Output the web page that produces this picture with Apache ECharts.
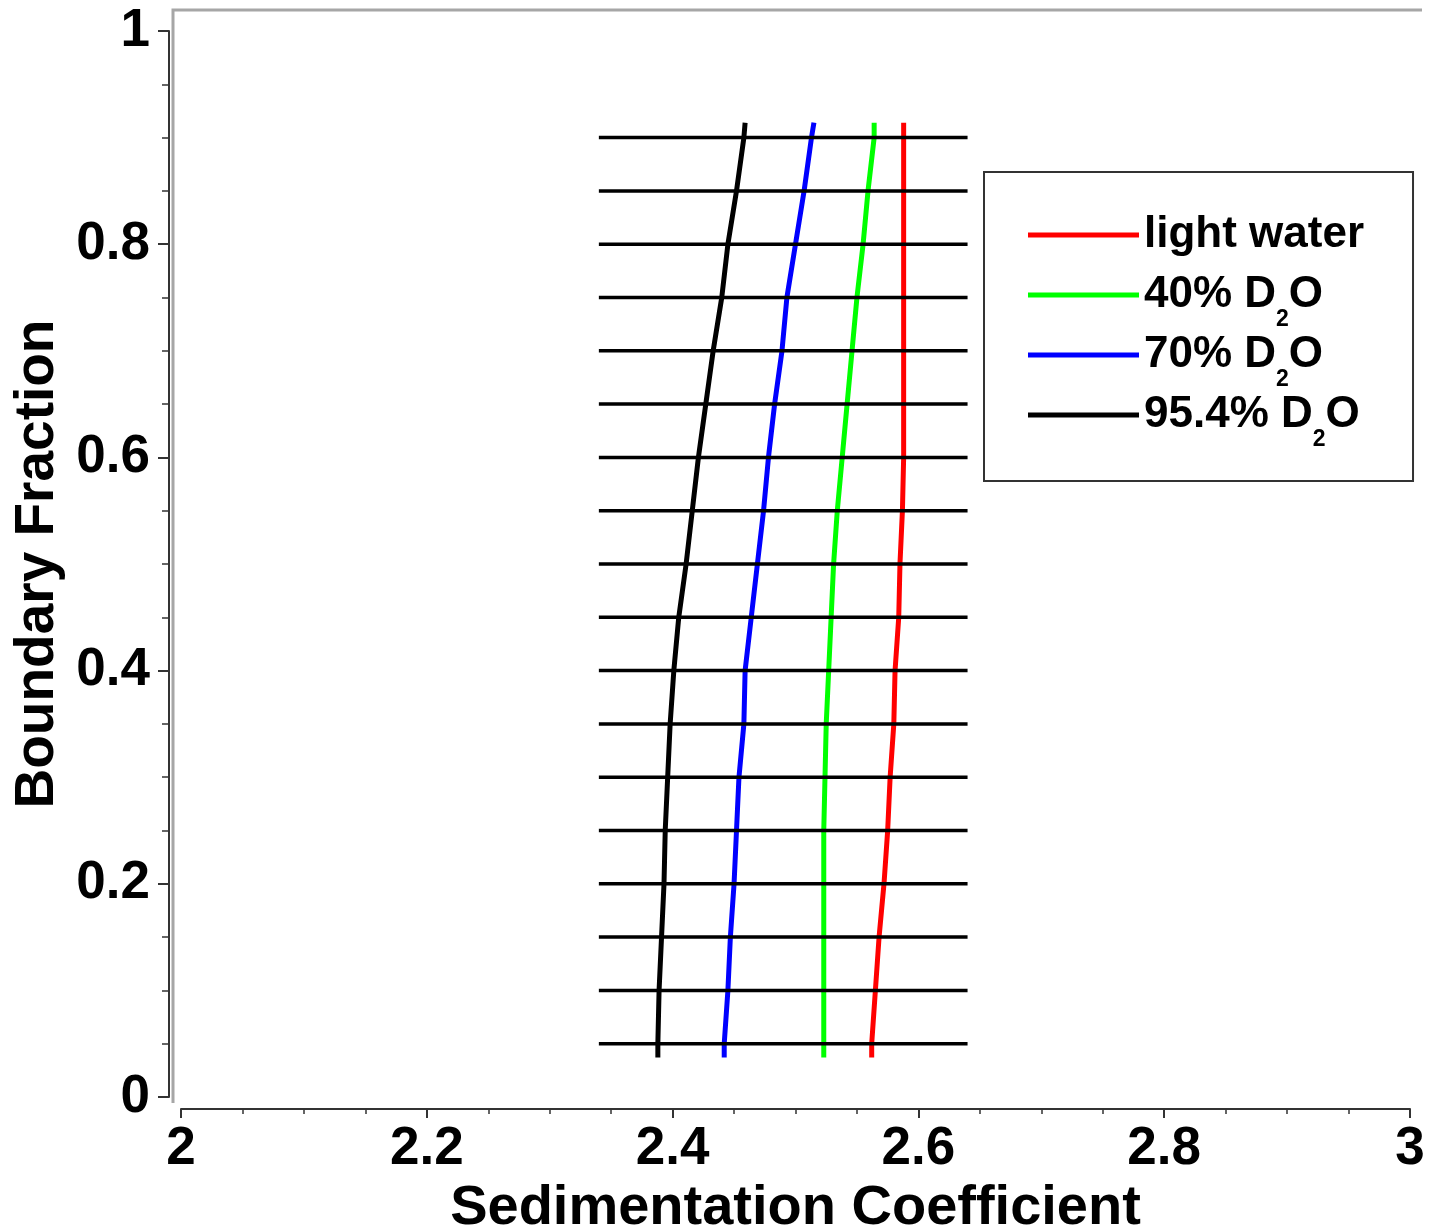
<!DOCTYPE html>
<html>
<head>
<meta charset="utf-8">
<title>Boundary Fraction vs Sedimentation Coefficient</title>
<script src="https://cdn.jsdelivr.net/npm/echarts@6/dist/echarts.min.js"></script>
<style>
  html, body { margin: 0; padding: 0; background: #fff; }
  #chart { width: 1430px; height: 1228px; }
</style>
</head>
<body>
<div id="chart"></div>
<script>
// Boundary fractions at which each distribution was evaluated
const boundaryFraction = [0.037, 0.05, 0.10, 0.15, 0.20, 0.25, 0.30, 0.35, 0.40, 0.45,
  0.50, 0.55, 0.60, 0.65, 0.70, 0.75, 0.80, 0.85, 0.90, 0.914];

// Sedimentation coefficient for each solvent at those fractions
const lightWater = [2.562, 2.562, 2.565, 2.568, 2.572, 2.575, 2.577, 2.580, 2.581, 2.584,
  2.585, 2.587, 2.588, 2.588, 2.588, 2.588, 2.588, 2.588, 2.588, 2.588];
const d2o40 = [2.523, 2.523, 2.523, 2.523, 2.523, 2.523, 2.524, 2.525, 2.527, 2.529,
  2.531, 2.534, 2.538, 2.542, 2.546, 2.550, 2.555, 2.559, 2.564, 2.564];
const d2o70 = [2.442, 2.442, 2.445, 2.447, 2.450, 2.452, 2.454, 2.458, 2.459, 2.464,
  2.469, 2.474, 2.478, 2.483, 2.489, 2.493, 2.500, 2.507, 2.513, 2.515];
const d2o954 = [2.388, 2.388, 2.389, 2.391, 2.393, 2.394, 2.396, 2.398, 2.401, 2.405,
  2.411, 2.416, 2.421, 2.427, 2.433, 2.440, 2.445, 2.452, 2.458, 2.459];

const seriesNames = ['light water', '40% D2O', '70% D2O', '95.4% D2O'];
const seriesColors = ['#ff0000', '#00ff00', '#0000ff', '#000000'];
const seriesValues = [lightWater, d2o40, d2o70, d2o954];

// Reference boundary levels drawn as horizontal guide lines
const boundaryLevels = [0.05, 0.10, 0.15, 0.20, 0.25, 0.30, 0.35, 0.40, 0.45,
  0.50, 0.55, 0.60, 0.65, 0.70, 0.75, 0.80, 0.85, 0.90];
const levelSpan = [2.34, 2.64];

const FONT = '"Liberation Sans", Arial, Helvetica, sans-serif';
const AXIS_COLOR = '#333';

const chart = echarts.init(document.getElementById('chart'), null, { renderer: 'canvas' });

const curveSeries = seriesNames.map((name, i) => ({
  name: name,
  type: 'line',
  data: boundaryFraction.map((f, j) => [seriesValues[i][j], f]),
  showSymbol: false,
  symbol: 'none',
  lineStyle: { color: seriesColors[i], width: 5 },
  itemStyle: { color: seriesColors[i] },
  silent: true,
  z: 2
}));

const levelSeries = boundaryLevels.map((lv) => ({
  name: 'level ' + lv,
  type: 'line',
  data: [[levelSpan[0], lv], [levelSpan[1], lv]],
  showSymbol: false,
  symbol: 'none',
  lineStyle: { color: '#000', width: 3.5 },
  silent: true,
  z: 3
}));

const option = {
  animation: false,
  backgroundColor: '#fff',
  grid: { left: 181, right: 20, top: 31, bottom: 131, containLabel: false, outerBoundsMode: 'none' },
  xAxis: {
    type: 'value',
    min: 2, max: 3, interval: 0.2,
    offset: 12,
    name: 'Sedimentation Coefficient',
    nameLocation: 'middle',
    nameGap: 65,
    nameTextStyle: { fontFamily: FONT, fontWeight: 'bold', fontSize: 56, color: '#000' },
    axisLine: { show: true, onZero: false, lineStyle: { color: AXIS_COLOR, width: 2 } },
    axisTick: { show: true, inside: false, length: 9, lineStyle: { color: AXIS_COLOR, width: 2 } },
    minorTick: { show: true, splitNumber: 4, length: 5, lineStyle: { color: AXIS_COLOR, width: 1.5 } },
    axisLabel: { fontFamily: FONT, fontWeight: 'bold', fontSize: 53, color: '#000', margin: 14 },
    splitLine: { show: false },
    minorSplitLine: { show: false }
  },
  yAxis: {
    type: 'value',
    min: 0, max: 1, interval: 0.2,
    offset: 12,
    name: 'Boundary Fraction',
    nameLocation: 'middle',
    nameGap: 94,
    nameTextStyle: { fontFamily: FONT, fontWeight: 'bold', fontSize: 55, color: '#000' },
    axisLine: { show: true, onZero: false, lineStyle: { color: AXIS_COLOR, width: 2 } },
    axisTick: { show: true, inside: false, length: 11, lineStyle: { color: AXIS_COLOR, width: 2 } },
    minorTick: { show: true, splitNumber: 4, length: 7, lineStyle: { color: AXIS_COLOR, width: 1.5 } },
    axisLabel: { fontFamily: FONT, fontWeight: 'bold', fontSize: 53, color: '#000', margin: 19 },
    splitLine: { show: false },
    minorSplitLine: { show: false }
  },
  legend: {
    data: seriesNames,
    orient: 'vertical',
    left: 984,
    top: 172,
    padding: [27, 49, 30, 44],
    itemGap: -12,
    itemWidth: 111,
    itemHeight: 5,
    icon: 'rect',
    borderColor: '#333',
    borderWidth: 2,
    backgroundColor: '#fff',
    selectedMode: false,
    formatter: (name) => name.replace('D2O', 'D{sub|2}O'),
    textStyle: {
      fontFamily: FONT, fontWeight: 'bold', fontSize: 44, color: '#000', lineHeight: 72,
      rich: {
        sub: { fontFamily: FONT, fontWeight: 'bold', fontSize: 23, color: '#000', verticalAlign: 'bottom' }
      }
    }
  },
  // Plot frame: light gray top and left border
  graphic: [{
    type: 'polyline',
    silent: true,
    shape: { points: [[1422, 10], [173, 10], [173, 1103]] },
    style: { stroke: '#a6a6a6', lineWidth: 3, fill: null }
  }],
  series: curveSeries.concat(levelSeries)
};

chart.setOption(option);
</script>
</body>
</html>
